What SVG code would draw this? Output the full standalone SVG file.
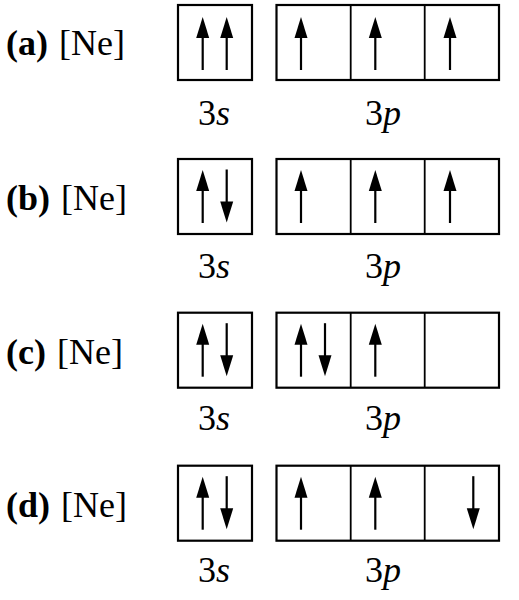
<svg xmlns="http://www.w3.org/2000/svg" width="519" height="600" viewBox="0 0 519 600">
<style>
.bg{fill:#fff}
.box{fill:#fff;stroke:#000;stroke-width:2.2}
.div{stroke:#000;stroke-width:1.8}
.lab{font-family:"Liberation Serif","Times New Roman",serif;font-size:36px;fill:#000}
.b{font-weight:bold}
.it{font-style:italic}
.shaft{stroke:#000;stroke-width:2.2}
</style>
<defs>
<g id="up"><line class="shaft" x1="0" y1="18" x2="0" y2="53"/><polygon points="0,0 6.5,21 -6.5,21" fill="#000"/></g>
<g id="dn"><line class="shaft" x1="0" y1="0" x2="0" y2="35"/><polygon points="0,53 6.5,32 -6.5,32" fill="#000"/></g>
<g id="boxes">
<rect class="box" x="178" y="0" width="74" height="75"/>
<rect class="box" x="276.5" y="0" width="222.5" height="75"/>
<line class="div" x1="350.7" y1="0" x2="350.7" y2="75"/>
<line class="div" x1="424.7" y1="0" x2="424.7" y2="75"/>
</g>
</defs>
<rect class="bg" x="0" y="0" width="519" height="600"/>
<g id="row-a" transform="translate(0,5)">
<text class="lab b" x="6" y="50">(a)</text><text class="lab" x="59" y="50">[Ne]</text>
<use href="#boxes"/>
<use href="#up" x="202.7" y="12"/><use href="#up" x="226.7" y="12"/>
<use href="#up" x="301" y="12"/><use href="#up" x="375.3" y="12"/><use href="#up" x="450" y="12"/>
<text class="lab" x="198" y="120">3<tspan class="it">s</tspan></text>
<text class="lab" x="365" y="120">3<tspan class="it">p</tspan></text>
</g>
<g id="row-b" transform="translate(0,159)">
<text class="lab b" x="6" y="51">(b)</text><text class="lab" x="61" y="51">[Ne]</text>
<use href="#boxes"/>
<use href="#up" x="202.7" y="11"/><use href="#dn" x="226.7" y="10.5"/>
<use href="#up" x="301" y="11"/><use href="#up" x="375.3" y="11"/><use href="#up" x="450" y="11"/>
<text class="lab" x="198" y="119">3<tspan class="it">s</tspan></text>
<text class="lab" x="365" y="119">3<tspan class="it">p</tspan></text>
</g>
<g id="row-c" transform="translate(0,312.7)">
<text class="lab b" x="6" y="51">(c)</text><text class="lab" x="57" y="51">[Ne]</text>
<use href="#boxes"/>
<use href="#up" x="202.7" y="11"/><use href="#dn" x="226.7" y="10.5"/>
<use href="#up" x="301" y="11"/><use href="#dn" x="325" y="10.5"/><use href="#up" x="375.3" y="11"/>
<text class="lab" x="198" y="117">3<tspan class="it">s</tspan></text>
<text class="lab" x="365" y="117">3<tspan class="it">p</tspan></text>
</g>
<g id="row-d" transform="translate(0,465.7)">
<text class="lab b" x="6" y="51">(d)</text><text class="lab" x="61" y="51">[Ne]</text>
<use href="#boxes"/>
<use href="#up" x="202.7" y="11"/><use href="#dn" x="226.7" y="10.5"/>
<use href="#up" x="301" y="11"/><use href="#up" x="375.3" y="11"/><use href="#dn" x="473.3" y="10.5"/>
<text class="lab" x="198" y="116">3<tspan class="it">s</tspan></text>
<text class="lab" x="365" y="116">3<tspan class="it">p</tspan></text>
</g>
</svg>
